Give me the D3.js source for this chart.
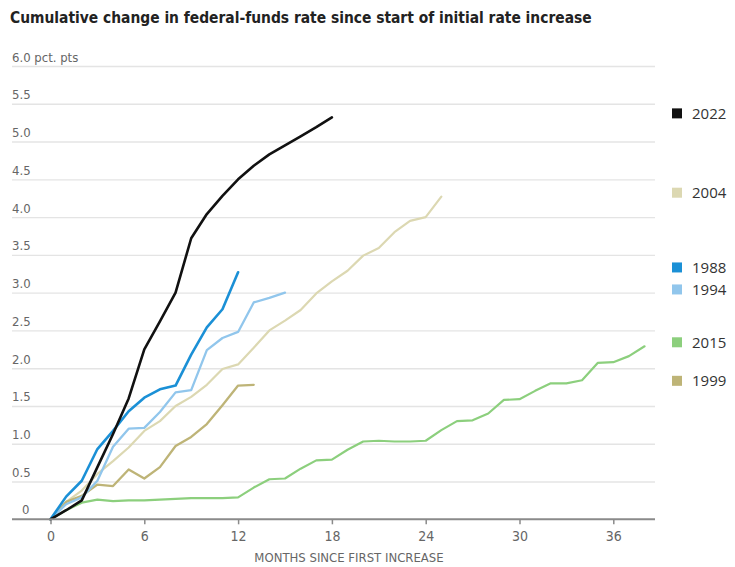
<!DOCTYPE html>
<html>
<head>
<meta charset="utf-8">
<script src="https://cdn.jsdelivr.net/npm/d3@7"></script>
<style>
  body { margin: 0; background: #fff; }
  svg { display: block; }
</style>
</head>
<body>
<svg id="chart" width="735" height="567"></svg>
<script>
// Cumulative change (percentage points) in the monthly federal-funds rate,
// indexed by months since the first increase of each tightening cycle.
const seriesNames = ["2015", "2004", "1999", "1994", "1988", "2022"];
const values2022 = [0, 0.12, 0.25, 0.69, 1.13, 1.60, 2.25, 2.62, 3.00, 3.72, 4.04, 4.28, 4.50, 4.68, 4.83, 4.95, 5.07, 5.19, 5.32];
const values2004 = [0, 0.23, 0.38, 0.60, 0.77, 0.95, 1.17, 1.30, 1.50, 1.62, 1.78, 1.99, 2.05, 2.27, 2.50, 2.63, 2.77, 2.99, 3.15, 3.29, 3.49, 3.59, 3.80, 3.95, 4.00, 4.27];
const values1988 = [0, 0.30, 0.51, 0.93, 1.17, 1.43, 1.61, 1.72, 1.77, 2.18, 2.54, 2.78, 3.27];
const values1994 = [0, 0.20, 0.29, 0.51, 0.96, 1.20, 1.21, 1.42, 1.68, 1.71, 2.24, 2.40, 2.48, 2.87, 2.93, 3.00];
const values2015 = [0, 0.12, 0.22, 0.26, 0.24, 0.25, 0.25, 0.26, 0.27, 0.28, 0.28, 0.28, 0.29, 0.42, 0.53, 0.54, 0.67, 0.78, 0.79, 0.92, 1.03, 1.04, 1.03, 1.03, 1.04, 1.18, 1.30, 1.31, 1.40, 1.58, 1.59, 1.70, 1.80, 1.80, 1.84, 2.07, 2.08, 2.16, 2.29];
const values1999 = [0, 0.23, 0.31, 0.46, 0.44, 0.66, 0.54, 0.69, 0.97, 1.09, 1.26, 1.51, 1.77, 1.78];

const xTicks = [0, 6, 12, 18, 24, 30, 36];
const yTicks = [0, 0.5, 1.0, 1.5, 2.0, 2.5, 3.0, 3.5, 4.0, 4.5, 5.0, 5.5, 6.0];
const yTickLabels = ["0", "0.5", "1.0", "1.5", "2.0", "2.5", "3.0", "3.5", "4.0", "4.5", "5.0", "5.5", "6.0 pct. pts"];

const titleText = "Cumulative change in federal-funds rate since start of initial rate increase";
const xAxisTitle = "MONTHS SINCE FIRST INCREASE";

const seriesValues = {
  "2022": values2022, "2004": values2004, "1988": values1988,
  "1994": values1994, "2015": values2015, "1999": values1999
};

const style = {
  "2022": { color: "#111111", width: 2.6 },
  "1988": { color: "#1b90d6", width: 2.6 },
  "1994": { color: "#91c6ec", width: 2.3 },
  "2004": { color: "#dcd8b2", width: 2.2 },
  "2015": { color: "#8ccf7d", width: 2.2 },
  "1999": { color: "#beb477", width: 2.3 }
};

const narrow = "'Liberation Sans Narrow', 'DejaVu Sans Condensed', 'Arial Narrow', sans-serif";

const svg = d3.select("#chart");
const gridLeft = 12, gridRight = 655;

const x = d3.scaleLinear().domain([0, 36]).range([50.5, 613.3]);
const y = d3.scaleLinear().domain([0, 6]).range([519.3, 66]);

// Title, sized to run across the chart width
const title = svg.append("text")
  .attr("x", 10).attr("y", 23)
  .style("font-family", narrow)
  .style("font-weight", "bold")
  .style("font-size", "18px")
  .attr("fill", "#222")
  .text(titleText);
const tw = title.node().getComputedTextLength();
title.style("font-size", (18 * 582 / tw).toFixed(2) + "px");

// Horizontal gridlines with labels sitting above them
const yAxis = d3.axisRight(y)
  .tickValues(yTicks.filter(d => d > 0))
  .tickSize(gridRight - gridLeft)
  .tickFormat(d => yTickLabels[yTicks.indexOf(d)]);
const gy = svg.append("g")
  .attr("transform", `translate(${gridLeft},0)`)
  .call(yAxis);
gy.select(".domain").remove();
gy.selectAll(".tick line").attr("stroke", "#e4e4e4").attr("stroke-width", 1.4);
gy.selectAll(".tick text")
  .attr("x", 0).attr("dy", -5)
  .attr("text-anchor", "start")
  .attr("fill", "#666")
  .style("font-family", narrow)
  .style("font-size", "13px");

// Zero label
svg.append("text")
  .attr("x", gridLeft + 10).attr("y", y(0) - 5)
  .attr("fill", "#666")
  .style("font-family", narrow)
  .style("font-size", "13px")
  .text(yTickLabels[0]);

// Series lines
const line = d3.line()
  .x((d, i) => x(i))
  .y(d => y(d));

svg.append("g").selectAll("path")
  .data(seriesNames)
  .join("path")
  .attr("d", k => line(seriesValues[k]))
  .attr("fill", "none")
  .attr("stroke", k => style[k].color)
  .attr("stroke-width", k => style[k].width)
  .attr("stroke-linejoin", "round")
  .attr("stroke-linecap", "round");

// Baseline and month ticks
svg.append("line")
  .attr("x1", gridLeft).attr("x2", gridRight)
  .attr("y1", y(0)).attr("y2", y(0))
  .attr("stroke", "#8a8a8a").attr("stroke-width", 2);

const xAxis = d3.axisBottom(x).tickValues(xTicks).tickSize(5).tickPadding(7);
const gx = svg.append("g")
  .attr("transform", `translate(0,${y(0)})`)
  .call(xAxis);
gx.select(".domain").remove();
gx.selectAll(".tick line").attr("stroke", "#8a8a8a").attr("stroke-width", 1.5);
gx.selectAll(".tick text")
  .attr("fill", "#666")
  .style("font-family", narrow)
  .style("font-size", "14px");

svg.append("text")
  .attr("x", 349).attr("y", 562)
  .attr("text-anchor", "middle")
  .attr("fill", "#666")
  .style("font-family", narrow)
  .style("font-size", "13px")
  .text(xAxisTitle);

// Legend placed at each series' final value, spread apart where they crowd
const legendItems = seriesNames.map(k => {
  const v = seriesValues[k];
  return { key: k, target: y(v[v.length - 1]) - 4 };
}).sort((a, b) => a.target - b.target);
legendItems.forEach(d => d.pos = d.target);
const minGap = 22;
for (let iter = 0; iter < 50; iter++) {
  for (let i = 1; i < legendItems.length; i++) {
    const a = legendItems[i - 1], b = legendItems[i];
    const overlap = minGap - (b.pos - a.pos);
    if (overlap > 0) { a.pos -= overlap / 2; b.pos += overlap / 2; }
  }
}

const lg = svg.append("g").selectAll("g")
  .data(legendItems)
  .join("g")
  .attr("transform", d => `translate(672,${d.pos})`);
lg.append("rect")
  .attr("x", 0).attr("y", -5)
  .attr("width", 10).attr("height", 10)
  .attr("fill", d => style[d.key].color);
lg.append("text")
  .attr("x", 20).attr("y", 0)
  .attr("dy", "0.35em")
  .attr("fill", "#333")
  .style("font-family", "'Open Sans', 'DejaVu Sans', sans-serif")
  .style("font-size", "15px")
  .text(d => d.key);
</script>
</body>
</html>
